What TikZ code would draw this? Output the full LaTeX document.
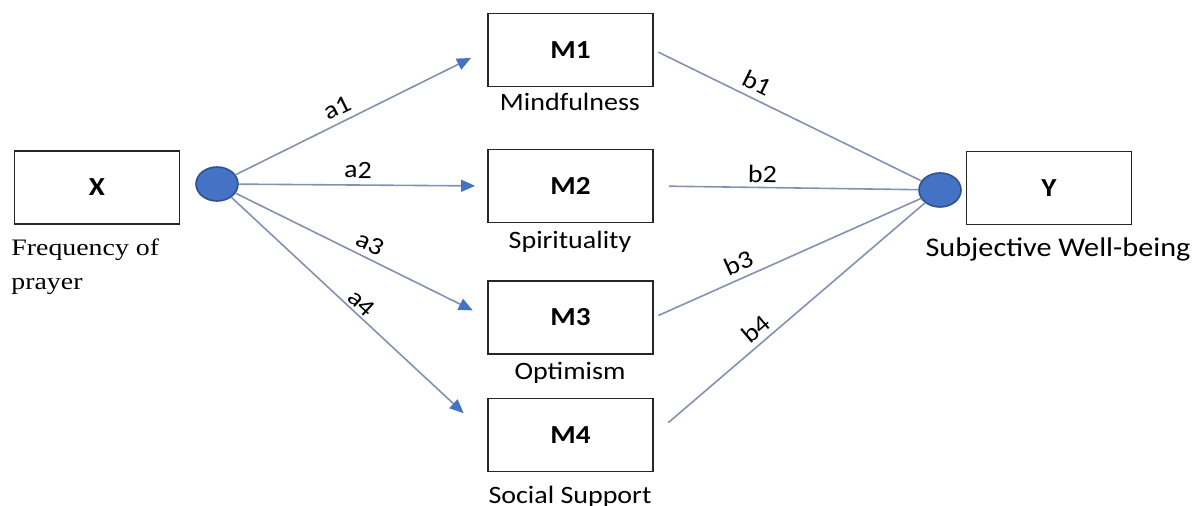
\documentclass[tikz,border=0pt]{standalone}
\usepackage{fontspec}
\setmainfont{Liberation Serif}[FakeStretch=1.18]
\setsansfont{Carlito}[FakeStretch=1.12]
\usetikzlibrary{positioning,arrows.meta,shapes.geometric}
\definecolor{pathblue}{RGB}{68,114,196}
\definecolor{pathline}{RGB}{130,146,176}
\definecolor{dotrim}{RGB}{47,82,143}
\tikzset{
  >={Triangle[length=7pt,width=6pt,color=pathblue]},
  varbox/.style={draw=black!85,line width=0.9pt,minimum width=82.5pt,
    minimum height=36.5pt,inner sep=0pt,
    font=\sffamily\bfseries\fontsize{13}{15}\selectfont},
  varlbl/.style={anchor=base,inner sep=0pt,
    font=\sffamily\fontsize{12.5}{15}\selectfont},
  joint/.style={ellipse,draw=dotrim,fill=pathblue,line width=0.8pt,
    minimum width=21pt,minimum height=17pt,inner sep=0pt},
  apath/.style={->,draw=pathline,line width=0.8pt},
  bpath/.style={draw=pathline,line width=0.8pt},
  coef/.style={font=\sffamily\fontsize{12.5}{15}\selectfont,sloped,above,
    inner sep=3pt},
}
\begin{document}
\begin{tikzpicture}[x=0.5pt,y=-0.5pt]
  \useasboundingbox (0,0) rectangle (1194,506);
  \node[varbox] (X) at (97,187.5) {X};
  \node[varbox] (M1) at (570.5,50) {M1};
  \node[varbox] (M2) at (570.5,186) {M2};
  \node[varbox] (M3) at (570.5,317.5) {M3};
  \node[varbox] (M4) at (570.5,435) {M4};
  \node[varbox] (Y) at (1049,188) {Y};
  \node[joint] (xj) at (217,184) {};
  \node[joint] (yj) at (940,190) {};
  % variable names under the boxes
  \node[anchor=north west,align=left,inner sep=0pt,
    font=\rmfamily\fontsize{11.8}{17}\selectfont] (xlbl) at (11,238)
    {Frequency of\\prayer};
  \node[varlbl] (m1lbl) at (570,111) {Mindfulness};
  \node[varlbl] (m2lbl) at (570,249) {Spirituality};
  \node[varlbl] (m3lbl) at (570,380) {Optimism};
  \node[varlbl] (m4lbl) at (570,504) {Social Support};
  \node[varlbl,font=\sffamily\fontsize{13.5}{15}\selectfont] (ylbl)
    at (1058,257) {Subjective Well-being};
  % a paths
  \draw[apath,shorten >=9pt] (xj) -- node[coef,pos=0.43] {a1} (M1.west);
  \draw[apath,shorten >=6pt] (xj) -- node[coef,pos=0.48] {a2} (M2.west);
  \draw[apath,shorten >=8pt] (xj) -- node[coef,pos=0.51] {a3} (M3.west);
  \draw[apath,shorten >=16pt] (xj) -- node[coef,pos=0.48,inner sep=1pt] {a4} (M4.west);
  % b paths
  \draw[bpath,shorten <=2.5pt] (M1.east) -- node[coef,pos=0.36] {b1} (yj);
  \draw[bpath,shorten <=7.5pt] (M2.east) -- node[coef,pos=0.41,inner sep=2pt] {b2} (yj);
  \draw[bpath,shorten <=2.5pt] (M3.east) -- node[coef,pos=0.34] {b3} (yj);
  \draw[bpath,shorten <=9.5pt] (M4.east) -- node[coef,pos=0.41,inner sep=2.5pt] {b4} (yj);
\end{tikzpicture}
\end{document}
